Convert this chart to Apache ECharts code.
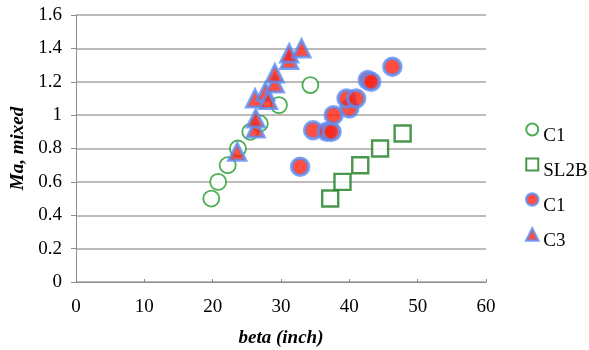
<!DOCTYPE html>
<html><head><meta charset="utf-8">
<script src="https://cdn.jsdelivr.net/npm/echarts@6/dist/echarts.min.js"></script>
<style>html,body{margin:0;padding:0;background:#fff}#c{width:589px;height:350px}</style>
</head><body><div id="c"></div>
<script>
var c1OpenX = [19.8, 20.8, 22.2, 23.7, 25.5, 26.9, 29.7, 34.3];
var c1OpenY = [0.50, 0.60, 0.70, 0.80, 0.90, 0.95, 1.06, 1.18];
var sl2bX = [37.2, 39.0, 41.6, 44.5, 47.8];
var sl2bY = [0.50, 0.60, 0.70, 0.80, 0.89];
var c1FillX = [32.8, 34.7, 36.7, 37.4, 37.7, 40.0, 39.6, 41.0, 42.7, 43.2, 46.3];
var c1FillY = [0.69, 0.91, 0.90, 0.90, 1.00, 1.04, 1.10, 1.10, 1.21, 1.20, 1.29];
var c3X = [23.6, 26.3, 26.3, 26.2, 27.7, 28.1, 29.1, 29.1, 31.2, 31.2, 33.0];
var c3Y = [0.78, 0.92, 0.98, 1.10, 1.14, 1.09, 1.19, 1.25, 1.33, 1.37, 1.40];
var xTicks = {min: 0, max: 60, interval: 10};
var yTicks = {min: 0, max: 1.6, interval: 0.2};
function pairs(xs, ys){ return xs.map(function(x,i){return [x, ys[i]];}); }
var font = 'Liberation Serif';
var chart = echarts.init(document.getElementById('c'));
chart.setOption({
  animation: false,
  grid: {left: 76, right: 103, top: 15, bottom: 68, containLabel: false, outerBoundsMode: 'none'},
  legend: {
    orient: 'vertical', left: 525, top: 113, itemGap: 2, padding: 0,
    itemWidth: 12, itemHeight: 12,
    textStyle: {fontFamily: font, fontSize: 19, color: '#000',
      rich: {t: {fontFamily: font, fontSize: 19, lineHeight: 20, color: '#000', padding: [14,0,0,0]}}},
    data: [
      {name: 'C1', icon: 'circle'},
      {name: 'SL2B', icon: 'rect'},
      {name: 'C1 ', icon: 'circle', itemStyle: {borderWidth: 2.5}},
      {name: 'C3', icon: 'triangle', itemStyle: {borderWidth: 2.5}}
    ],
    formatter: function(n){ return '{t|' + n.trim() + '}'; }
  },
  xAxis: {
    type: 'value', min: xTicks.min, max: xTicks.max, interval: xTicks.interval,
    name: 'beta (inch)', nameLocation: 'middle', nameGap: 47,
    nameTextStyle: {fontFamily: font, fontSize: 19, fontWeight: 'bold', fontStyle: 'italic', color: '#000'},
    axisLine: {show: true, onZero: false, lineStyle: {color: '#8c8c8c', width: 1}},
    axisTick: {show: true, inside: true, length: 3, lineStyle: {color: '#8c8c8c'}},
    axisLabel: {fontFamily: font, fontSize: 19, color: '#000', margin: 16},
    splitLine: {show: false}
  },
  yAxis: {
    type: 'value', min: yTicks.min, max: yTicks.max, interval: yTicks.interval,
    name: 'Ma, mixed', nameLocation: 'middle', nameGap: 48,
    nameTextStyle: {fontFamily: font, fontSize: 19, fontWeight: 'bold', fontStyle: 'italic', color: '#000'},
    axisLine: {show: true, lineStyle: {color: '#8c8c8c', width: 1}},
    axisTick: {show: true, inside: false, length: 5, lineStyle: {color: '#8c8c8c'}},
    axisLabel: {fontFamily: font, fontSize: 19, color: '#000', margin: 14,
      formatter: function(v){ return String(Math.round(v*10)/10); }},
    splitLine: {show: true, lineStyle: {color: '#a6a6a6', width: 1.5}}
  },
  series: [
    {name: 'C1', type: 'scatter', symbol: 'circle', symbolSize: 16,
     data: pairs(c1OpenX, c1OpenY),
     itemStyle: {color: '#fff', borderColor: '#1f9a2a', borderWidth: 1.8}},
    {name: 'SL2B', type: 'scatter', symbol: 'rect', symbolSize: 16,
     data: pairs(sl2bX, sl2bY),
     itemStyle: {color: '#fff', borderColor: '#1b7d1f', borderWidth: 2.4}},
    {name: 'C1 ', type: 'scatter', symbol: 'circle', symbolSize: 17,
     data: pairs(c1FillX, c1FillY),
     itemStyle: {color: '#ff2010', borderColor: '#5b8ef5', borderWidth: 3.5}},
    {name: 'C3', type: 'scatter', symbol: 'triangle', symbolSize: 17,
     data: pairs(c3X, c3Y),
     itemStyle: {color: '#ff2010', borderColor: '#5b8ef5', borderWidth: 3}}
  ]
});
</script></body></html>
